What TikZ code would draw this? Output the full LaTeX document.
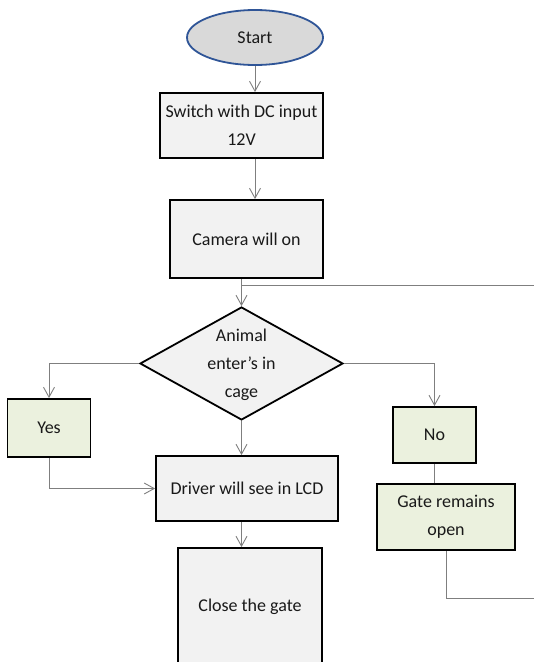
\documentclass[tikz,border=0pt]{standalone}
\usepackage{fontspec}
\setmainfont{Carlito}
\usepackage{tikz}
\usetikzlibrary{arrows.meta,shapes,positioning,calc}
\definecolor{boxgray}{HTML}{F2F2F2}
\definecolor{startgray}{HTML}{D9D9D9}
\definecolor{startblue}{HTML}{2F5597}
\definecolor{boxgreen}{HTML}{EBF1DE}
\definecolor{linegray}{HTML}{7F7F7F}

\begin{document}
\begin{tikzpicture}[
    x=1pt, y=-1pt,
    txt/.style={font=\fontsize{18}{28}\selectfont, align=center, text=black!90},
    box/.style={txt, rectangle, draw=black, line width=1.8pt, fill=boxgray, inner sep=0pt},
    greenbox/.style={box, fill=boxgreen},
    startnode/.style={txt, ellipse, draw=startblue, line width=1.8pt, fill=startgray, minimum width=136pt, minimum height=55pt, inner sep=0pt},
    decision/.style={diamond, draw=black, line width=1.8pt, fill=boxgray, minimum width=203pt, minimum height=113pt, inner sep=0pt},
    line/.style={draw=linegray, line width=0.9pt},
    >={Straight Barb[length=10pt,width=11pt]}
]
\path[use as bounding box, clip] (0,0) rectangle (534,662);

% --- main column ---
\node[startnode] (start) at (255,37.5) {Start};
\node[box, minimum width=163pt, minimum height=65pt] (sw) at (241.5,125.5) {Switch with DC input\\12V};
\node[box, minimum width=153pt, minimum height=78pt] (cam) at (246.5,239) {Camera will on};
\node[decision] (anim) at (241.5,363.5) {};
\node[txt] (animtext) at ([yshift=-1pt]anim.center) {Animal\\enter's in\\cage};
\node[box, minimum width=182pt, minimum height=65pt] (drv) at (247,488.5) {Driver will see in LCD};
\node[box, minimum width=144pt, minimum height=118pt] (close) at (250,607) {Close the gate};

% --- branches ---
\node[greenbox, minimum width=83pt, minimum height=58pt] (yes) at (49,428) {Yes};
\node[greenbox, minimum width=83pt, minimum height=56pt] (no) at (434.5,435) {No};
\node[greenbox, minimum width=138pt, minimum height=66pt] (gate) at (446,517) {Gate remains\\open};

% loop back points
\coordinate (merge) at (241.5,285);
\coordinate (loopR) at (548,598);

% Arrows
\draw[line, ->] (start.south) -- (start.south |- sw.north);
\draw[line, ->] (start.south |- sw.south) -- (start.south |- cam.north);
\draw[line, ->] (anim.north |- cam.south) -- (anim.north);

\draw[line, ->] (anim.west) -| (yes.north);
\draw[line, ->] (anim.east) -| (no.north);
\draw[line] (no.south) -- (no.south |- gate.north);

\draw[line, ->] (anim.south) -- (anim.south |- drv.north);
\draw[line, ->] (yes.south) |- (drv.west);
\draw[line, ->] (anim.south |- drv.south) -- (anim.south |- close.north);

% gate stays open: back to the check
\draw[line] (gate.south) |- (loopR) |- (merge);

\end{tikzpicture}
\end{document}
